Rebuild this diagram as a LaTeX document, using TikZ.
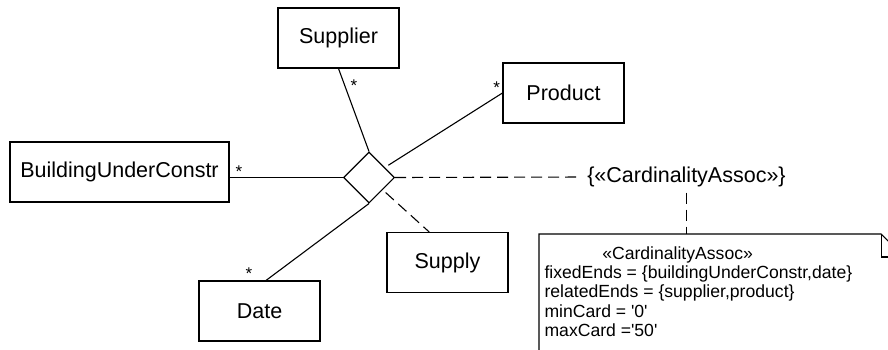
\documentclass[tikz,border=0pt]{standalone}
\usepackage{fontspec}
\setmainfont{Liberation Sans}
\usetikzlibrary{shapes.geometric,calc}

\begin{document}
\begin{tikzpicture}[
    x=1pt, y=-1pt,
    line width=1.1pt,
    classbox/.style={draw, minimum width=121pt, minimum height=60pt, inner sep=0pt, font=\fontsize{21.5}{25}\selectfont},
    assoc/.style={draw, diamond, minimum width=51pt, minimum height=51pt, inner sep=0pt},
    dep/.style={dash pattern=on 11pt off 6pt},
    mult/.style={font=\fontsize{17}{20}\selectfont, inner sep=0pt, anchor=base},
]

\clip (0, 0) rectangle (888, 350);

% === Classes ===
\node[classbox] (supplier) at (338.5, 38) {Supplier};
\node[classbox] (product) at (563.5, 93) {Product};
\node[classbox, minimum width=219pt] (building) at (119.5, 172) {BuildingUnderConstr};
\node[classbox] (date) at (259.5, 311) {Date};
\node[classbox] (supply) at (447.5, 262.5) {Supply};

% === N-ary association ===
\node[assoc] (assoc) at (369, 177.5) {};

\draw (supplier.south) -- (assoc.north);
\draw[shorten <=4pt] (assoc) -- (product.west);
\draw (assoc.west) -- (building.east |- assoc.west);
\draw (assoc.south) -- ([xshift=6.5pt]date.north);

% association class
\draw[dep, shorten <=4pt] (assoc) -- ($(supply.north west)!0.35!(supply.north east)$);

% multiplicities
\node[mult] (mbuilding) at (239, 177) {*};
\node[mult] (msupplier) at (354, 91.7) {*};
\node[mult] (mdate) at (249, 279.7) {*};
\node[mult] (mproduct) at (496.7, 94) {*};

% === Constraint and note ===
\node[inner sep=0pt, font=\fontsize{21.5}{25}\selectfont] (constraint) at (686.5, 177) {\{«CardinalityAssoc»\}};
\draw[dep, shorten >=10pt] (assoc.east) -- (constraint.west);

\node[anchor=north west, minimum width=364pt, minimum height=150pt, inner sep=0pt] (note) at (539, 234) {};
\draw (note.north west) -- ([xshift=-23pt]note.north east) -- ([yshift=-23pt]note.north east)
    -- (note.south east) -- (note.south west) -- cycle;
\draw ([xshift=-23pt]note.north east) -- ([xshift=-23pt, yshift=-23pt]note.north east)
    -- ([yshift=-23pt]note.north east);
\draw[dep, shorten <=5pt] (constraint.south) -- (constraint.south |- note.north);

\node[anchor=north west, inner sep=0pt, align=left, font=\fontsize{17.6}{19.3}\selectfont] (notetext) at (544, 246)
    {\hspace*{57.7pt}«CardinalityAssoc»\\
     fixedEnds = \{buildingUnderConstr,date\}\\
     relatedEnds = \{supplier,product\}\\
     minCard = \textquotesingle0\textquotesingle\\
     maxCard =\textquotesingle50\textquotesingle};

\end{tikzpicture}
\end{document}
